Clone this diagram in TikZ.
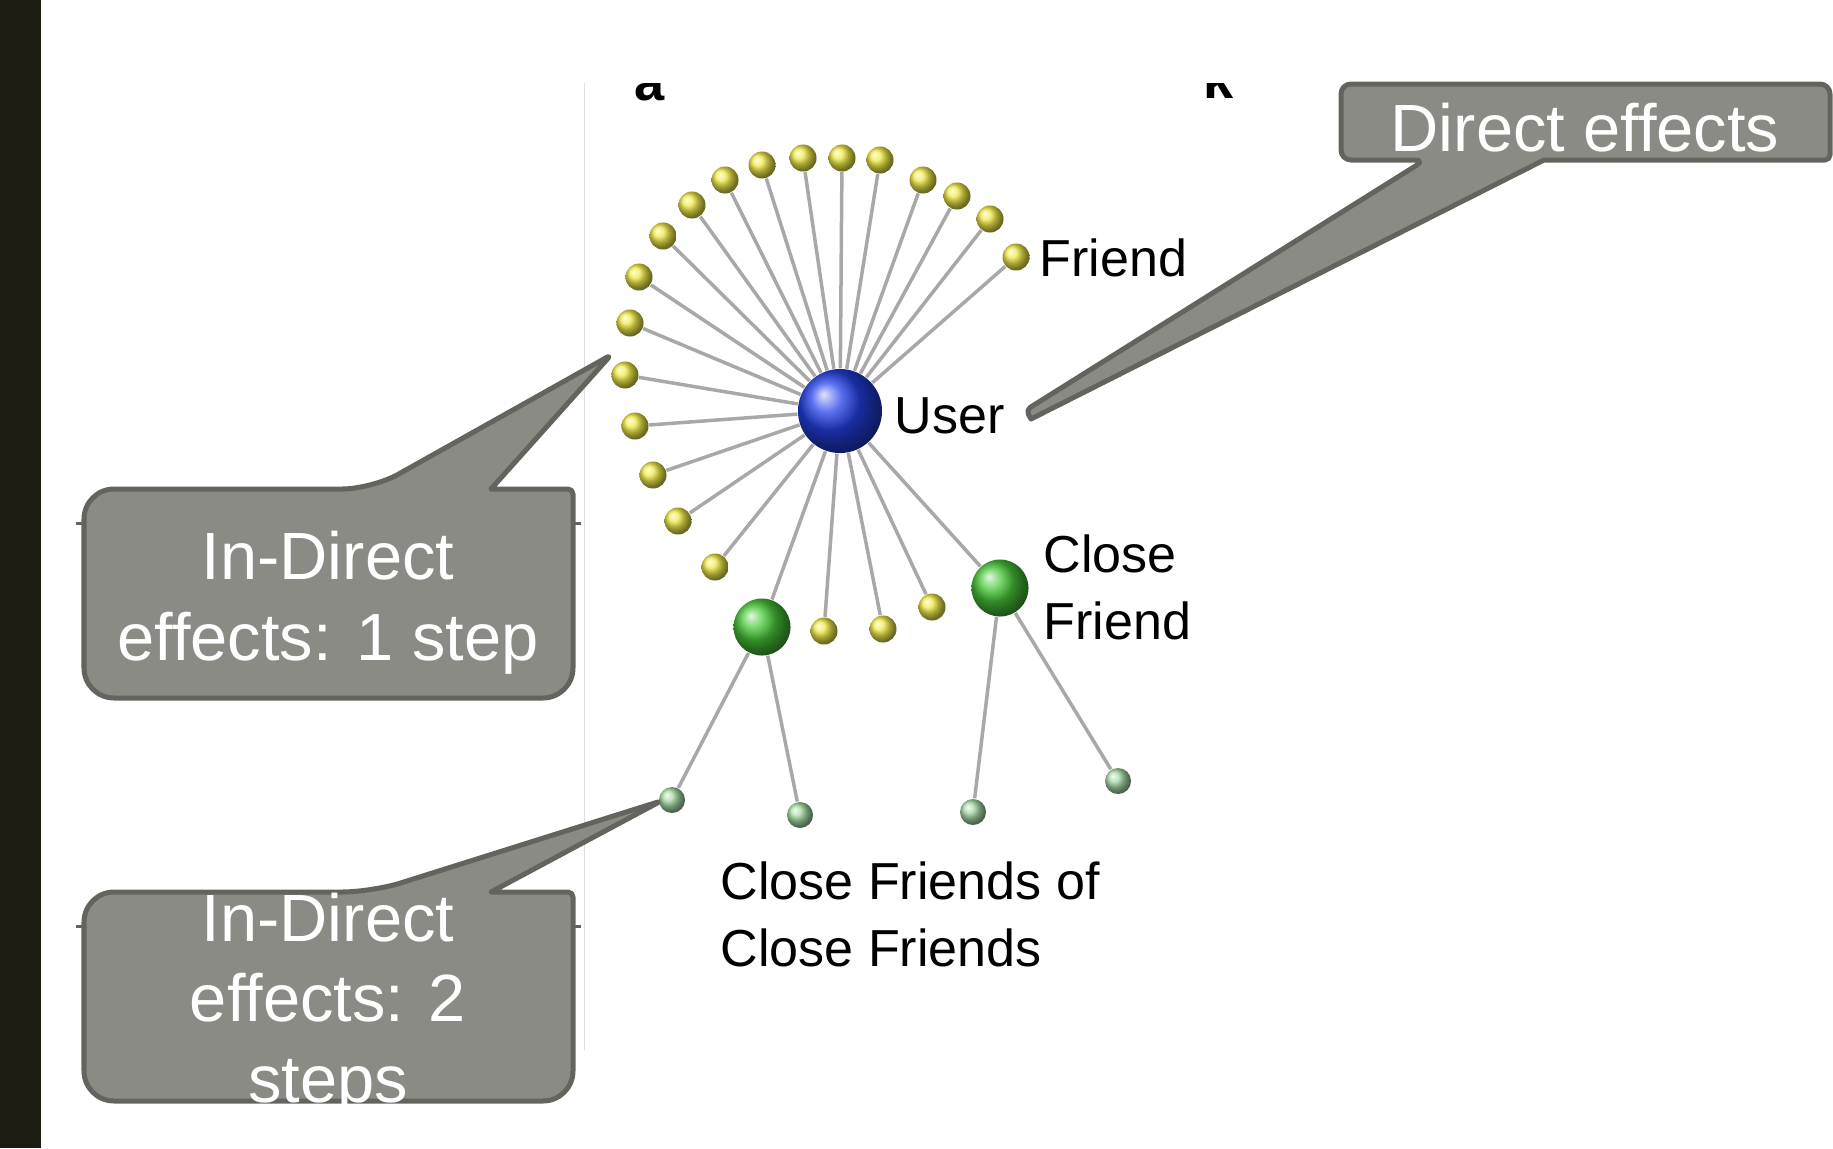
\documentclass[tikz,border=0pt]{standalone}
\usepackage{fontspec}
\setmainfont{Liberation Sans}

\definecolor{barDark}{HTML}{1C1C10}
\definecolor{calloutFill}{HTML}{8B8B85}
\definecolor{calloutLine}{HTML}{64645F}
\definecolor{edgeGray}{HTML}{A8A8A8}
\definecolor{friendYellow}{HTML}{F0EA48}
\definecolor{userBlue}{HTML}{2440E8}
\definecolor{closeGreen}{HTML}{48C838}
\definecolor{fofGreen}{HTML}{A8DCA8}

\tikzset{
  friend/.style={circle,inner sep=0pt,minimum size=0.27cm,shading=ball,ball color=friendYellow},
  user/.style={circle,inner sep=0pt,minimum size=0.84cm,shading=ball,ball color=userBlue},
  closefriend/.style={circle,inner sep=0pt,minimum size=0.57cm,shading=ball,ball color=closeGreen},
  fof/.style={circle,inner sep=0pt,minimum size=0.26cm,shading=ball,ball color=fofGreen},
  edge/.style={edgeGray,line width=0.035cm},
  lbl/.style={font=\fontsize{14.8}{18.8}\selectfont,inner sep=0pt,anchor=base west,align=left},
  callout/.style={fill=calloutFill,draw=calloutLine,line width=0.05cm,line join=round},
  callouttext/.style={font=\fontsize{19}{22.8}\selectfont,text=white,inner sep=0pt,anchor=base,align=center}
}

\begin{document}
\begin{tikzpicture}[x=0.01cm,y=-0.01cm]

\useasboundingbox (0,0) rectangle (1833,1148);

%------------------------
% Slide frame
%------------------------
\fill[barDark] (0,0) rectangle (41,1148);
\draw[black!12,line width=0.01cm] (584,83) -- (584,1050);

% cut-off title letters
\begin{scope}
  \clip (600,83) rectangle (1300,120);
  \node[font=\bfseries\fontsize{15.4}{18}\selectfont,inner sep=0pt,anchor=base west] (titleA) at (634,100) {a};
  \node[font=\bfseries\fontsize{15.4}{18}\selectfont,inner sep=0pt,anchor=base west] (titleK) at (1203,98) {k};
\end{scope}

%------------------------
% Network
%------------------------
\node[user] (user) at (840,411) {};

% friends, clockwise from the labelled one
\node[friend] (f1) at (1016,257) {};
\node[friend] (f2) at (990,219) {};
\node[friend] (f3) at (957,196) {};
\node[friend] (f4) at (923,180) {};
\node[friend] (f5) at (880,160) {};
\node[friend] (f6) at (842,158) {};
\node[friend] (f7) at (803,158) {};
\node[friend] (f8) at (762,165) {};
\node[friend] (f9) at (725,180) {};
\node[friend] (f10) at (692,205) {};
\node[friend] (f11) at (663,236) {};
\node[friend] (f12) at (639,277) {};
\node[friend] (f13) at (630,323) {};
\node[friend] (f14) at (625,375) {};
\node[friend] (f15) at (635,426) {};
\node[friend] (f16) at (653,475) {};
\node[friend] (f17) at (678,521) {};
\node[friend] (f18) at (715,567) {};
\node[friend] (f19) at (824,631) {};
\node[friend] (f20) at (883,629) {};
\node[friend] (f21) at (932,607) {};

% close friends
\node[closefriend] (cf1) at (762,627) {};
\node[closefriend] (cf2) at (1000,588) {};

% close friends of close friends
\node[fof] (ff1) at (672,800) {};
\node[fof] (ff2) at (800,815) {};
\node[fof] (ff3) at (973,812) {};
\node[fof] (ff4) at (1118,781) {};

\foreach \i in {1,...,21}
  \draw[edge] (user) -- (f\i);
\draw[edge] (user) -- (cf1);
\draw[edge] (user) -- (cf2);
\draw[edge] (cf1) -- (ff1);
\draw[edge] (cf1) -- (ff2);
\draw[edge] (cf2) -- (ff3);
\draw[edge] (cf2) -- (ff4);

%------------------------
% Labels (base = last line)
%------------------------
\node[lbl] (friendlbl) at (1039,276) {Friend};
\node[lbl] (userlbl) at (894,433) {User};
\node[lbl] (closelbl) at (1043,639) {Close\\Friend};
\node[lbl] (foflbl) at (720,966) {Close Friends of\\Close Friends};

%------------------------
% Callouts
%------------------------
% Direct effects
\draw[callout] (1830,120) [rounded corners=0.1cm] -- (1830,84) -- (1341,84) -- (1341,160)
  -- (1425,160) [rounded corners=0.05cm] -- (1026,410) [sharp corners] -- (1031,419)
  -- (1544,160) [rounded corners=0.05cm] -- (1830,160) [rounded corners=0.1cm] -- cycle;
\node[callouttext] (direct) at (1585,151) {Direct effects};

% In-Direct, 1 step
\draw[callout] (84,600) [rounded corners=0.3cm] -- (84,489) -- (372,489)
  [rounded corners=0.05cm] -- (611,355) [sharp corners] -- (491,489)
  [rounded corners=0.05cm] -- (573,489) [rounded corners=0.3cm] -- (573,698) -- (84,698) -- cycle;
\draw[calloutLine,line width=0.03cm] (76,523) -- (84,523) (573,523) -- (581,523);
\node[callouttext] (step1) at (328,660) {In-Direct\\effects: 1 step};

% In-Direct, 2 steps
\draw[callout] (84,1000) [rounded corners=0.3cm] -- (84,892) -- (372,892)
  [rounded corners=0.05cm] -- (661,801) [sharp corners] -- (491,892)
  [rounded corners=0.05cm] -- (573,892) [rounded corners=0.3cm] -- (573,1101) -- (84,1101) -- cycle;
\draw[calloutLine,line width=0.03cm] (76,926) -- (84,926) (573,926) -- (581,926);
\node[callouttext] (step2) at (328,1102) {In-Direct\\effects: 2\\steps};

\end{tikzpicture}
\end{document}
